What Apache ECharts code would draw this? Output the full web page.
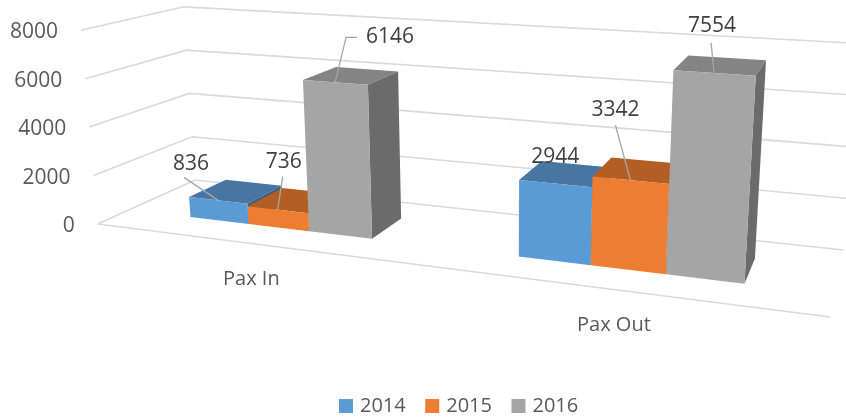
<!DOCTYPE html>
<html>
<head>
<meta charset="utf-8">
<style>html,body{margin:0;padding:0;background:#fff}#chart{width:846px;height:420px}</style>
<script src="https://cdn.jsdelivr.net/npm/echarts@6/dist/echarts.min.js"></script>
</head>
<body>
<div id="chart"></div>
<script>
const categories = ['Pax In', 'Pax Out'];
const years = ['2014', '2015', '2016'];
const pax2014 = [836, 2944];
const pax2015 = [736, 3342];
const pax2016 = [6146, 7554];
const yTicks = [0, 2000, 4000, 6000, 8000];

// colours per year: front, top, side
const faces = [
  ['#5b9bd5', '#4676a1', '#375e81'],
  ['#ed7d31', '#b35f24', '#8e4b1d'],
  ['#a5a5a5', '#848484', '#6b6b6b']
];
// label centre and leader start, relative to the middle of the bar's top front edge
const labelShift = [
  [{ dx: -27, dy: -36, lx: -34, ly: -23 }, { dx: 0, dy: -26 }],
  [{ dx: 6, dy: -48, lx: 5, ly: -33 }, { dx: -15, dy: -70, lx: -15, ly: -55 }],
  [{ dx: 55, dy: -45, lx: 22, ly: -45, elbow: 11 }, { dx: -2, dy: -47, lx: -3, ly: -30 }]
];
const FONT = '"Open Sans"';

// square to quad mapping, quad is front-left, front-right, back-right, back-left
function makeQuad(q) {
  const dx1 = q[1][0] - q[2][0], dx2 = q[3][0] - q[2][0];
  const dy1 = q[1][1] - q[2][1], dy2 = q[3][1] - q[2][1];
  const sx = q[0][0] - q[1][0] + q[2][0] - q[3][0];
  const sy = q[0][1] - q[1][1] + q[2][1] - q[3][1];
  const den = dx1 * dy2 - dx2 * dy1;
  const g = (sx * dy2 - dx2 * sy) / den;
  const h = (dx1 * sy - sx * dy1) / den;
  return function (u, w) {
    const d = g * u + h * w + 1;
    return [
      ((q[1][0] - q[0][0] + g * q[1][0]) * u + (q[3][0] - q[0][0] + h * q[3][0]) * w + q[0][0]) / d,
      ((q[1][1] - q[0][1] + g * q[1][1]) * u + (q[3][1] - q[0][1] + h * q[3][1]) * w + q[0][1]) / d
    ];
  };
}
const floorQuad = makeQuad([[97.7, 224], [830, 317], [843.3, 250], [195, 180]]);
// verticals meet far below the chart, rise is a fraction of the distance to that point
const VERT_VP = [497, 4860];
const RISE = { fl: 0.0418, fr: 0.0515, br: 0.0448, bl: 0.037 };

// u along the categories, w into the depth, v up the value axis (all 0..1)
function project(u, w, v) {
  const a = floorQuad(u, w);
  // perspective: the inverse of the rise is what changes evenly
  const inv = (1 / RISE.fl * (1 - u) + 1 / RISE.fr * u) * (1 - w) + (1 / RISE.bl * (1 - u) + 1 / RISE.br * u) * w;
  return [a[0] + (a[0] - VERT_VP[0]) / inv * v, a[1] + (a[1] - VERT_VP[1]) / inv * v];
}
const W_FRONT = 0.3, W_BACK = 0.7, BAR_PART = 0.193;

function barBox(params, api, cat, value, yearIdx) {
  const cs = params.coordSys;
  const p = api.coord([cat, value]);
  const band = api.size([1, 0])[0] / cs.width;
  const barW = band * BAR_PART;
  const u0 = (p[0] - cs.x) / cs.width + (yearIdx - 1.5) * barW;
  return { u0: u0, u1: u0 + barW, v: (cs.y + cs.height - p[1]) / cs.height };
}

function renderBar(yearIdx) {
  return function (params, api) {
    const b = barBox(params, api, api.value(0), api.value(1), yearIdx);
    const col = faces[yearIdx];
    const poly = (pts, fill) => ({ type: 'polygon', shape: { points: pts }, style: { fill: fill } });
    return {
      type: 'group',
      children: [
        poly([project(b.u0, W_BACK, b.v), project(b.u1, W_BACK, b.v), project(b.u1, W_FRONT, b.v), project(b.u0, W_FRONT, b.v)], col[1]),
        poly([project(b.u1, W_FRONT, 0), project(b.u1, W_BACK, 0), project(b.u1, W_BACK, b.v), project(b.u1, W_FRONT, b.v)], col[2]),
        poly([project(b.u0, W_FRONT, 0), project(b.u1, W_FRONT, 0), project(b.u1, W_FRONT, b.v), project(b.u0, W_FRONT, b.v)], col[0])
      ]
    };
  };
}

function renderWall(params, api) {
  const cs = params.coordSys;
  const tick = api.value(1);
  const v = (cs.y + cs.height - api.coord([0, tick])[1]) / cs.height;
  const start = project(0, 0, v);
  const lineStyle = { stroke: '#d9d9d9', lineWidth: 1.6, fill: null };
  const kids = [
    { type: 'polyline', shape: { points: [start, project(0, 1, v), project(1, 1, v)] }, style: lineStyle },
    { type: 'text', style: { text: String(tick), x: start[0] - 23, y: start[1] + 2, align: 'right', verticalAlign: 'middle', fontFamily: FONT, fontSize: 21, fill: '#595959' } }
  ];
  if (tick === 0) {
    kids.push({ type: 'polyline', shape: { points: [start, project(1, 0, 0)] }, style: lineStyle });
  }
  return { type: 'group', children: kids };
}

function renderCategory(params, api) {
  const cs = params.coordSys;
  const u = (api.coord([api.value(0), 0])[0] - cs.x) / cs.width;
  const p = project(u, 0, 0);
  return { type: 'text', style: { text: categories[api.value(0)], x: p[0], y: p[1] + 36, align: 'center', verticalAlign: 'middle', fontFamily: FONT, fontSize: 20, fill: '#595959' } };
}

function renderLabel(params, api) {
  const cat = api.value(0), value = api.value(1), yearIdx = api.value(2);
  const b = barBox(params, api, cat, value, yearIdx);
  const a = project((b.u0 + b.u1) / 2, W_FRONT, b.v);
  const s = labelShift[yearIdx][cat];
  const kids = [
    { type: 'text', style: { text: String(value), x: a[0] + s.dx, y: a[1] + s.dy, align: 'center', verticalAlign: 'middle', fontFamily: FONT, fontSize: 21, fill: '#404040' } }
  ];
  if (s.lx !== undefined) {
    const pts = s.elbow ? [[a[0] + s.lx, a[1] + s.ly], [a[0] + s.lx - s.elbow, a[1] + s.ly], a] : [[a[0] + s.lx, a[1] + s.ly], a];
    kids.push({ type: 'polyline', shape: { points: pts }, style: { stroke: '#a6a6a6', lineWidth: 1.3, fill: null } });
  }
  return { type: 'group', children: kids };
}

const yearValues = [pax2014, pax2015, pax2016];
const labelData = [];
yearValues.forEach((vals, y) => vals.forEach((val, c) => labelData.push([c, val, y])));

const series = [
  {
    type: 'custom', name: 'walls', silent: true, clip: false, z: 1,
    renderItem: renderWall, data: yTicks.map(t => [0, t])
  },
  {
    type: 'custom', name: 'categories', silent: true, clip: false, z: 1,
    renderItem: renderCategory, data: categories.map((c, i) => [i, 0])
  }
];
years.forEach((year, i) => {
  series.push({
    type: 'custom', name: year, clip: false, z: 2,
    itemStyle: { color: faces[i][0] },
    renderItem: renderBar(i),
    data: yearValues[i].map((v, c) => [c, v])
  });
});
series.push({ type: 'custom', name: 'labels', silent: true, clip: false, z: 3, renderItem: renderLabel, data: labelData });

const myChart = echarts.init(document.getElementById('chart'));
myChart.setOption({
  animation: false,
  grid: { left: 97.7, right: 16, top: 31, height: 193 },
  xAxis: { type: 'category', data: categories, show: false },
  yAxis: { type: 'value', min: 0, max: 8000, interval: 2000, show: false },
  legend: {
    data: years, left: 334, top: 391, icon: 'rect', itemWidth: 14, itemHeight: 14, itemGap: 19.5,
    textStyle: { fontFamily: FONT, fontSize: 20, color: '#595959', padding: [0, 0, 0, 2] }
  },
  series: series
});
</script>
</body>
</html>
